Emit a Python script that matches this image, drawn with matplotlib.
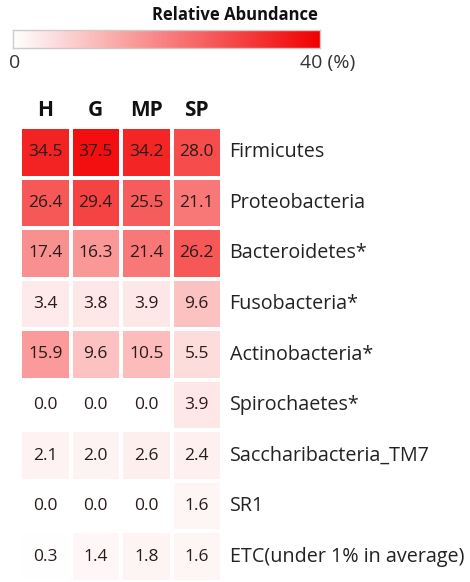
import numpy as np
import matplotlib
matplotlib.use("Agg")
import matplotlib.pyplot as plt
from matplotlib.colors import LinearSegmentedColormap

columns = ["H", "G", "MP", "SP"]
taxa = ["Firmicutes", "Proteobacteria", "Bacteroidetes*", "Fusobacteria*",
        "Actinobacteria*", "Spirochaetes*", "Saccharibacteria_TM7", "SR1",
        "ETC(under 1% in average)"]
H = [34.5, 26.4, 17.4, 3.4, 15.9, 0.0, 2.1, 0.0, 0.3]
G = [37.5, 29.4, 16.3, 3.8, 9.6, 0.0, 2.0, 0.0, 1.4]
MP = [34.2, 25.5, 21.4, 3.9, 10.5, 0.0, 2.6, 0.0, 1.8]
SP = [28.0, 21.1, 26.2, 9.6, 5.5, 3.9, 2.4, 1.6, 1.6]
vmin, vmax = 0, 40

plt.rcParams['font.family'] = ['Open Sans', 'DejaVu Sans']
cmap = LinearSegmentedColormap.from_list("wr", ["#ffffff", "#f20000"])

W, Hpx = 470, 582
fig = plt.figure(figsize=(W / 100, Hpx / 100), dpi=100)

def ax_px(x0, y0, x1, y1):
    return fig.add_axes([x0 / W, 1 - y1 / Hpx, (x1 - x0) / W, (y1 - y0) / Hpx])

data = np.array([H, G, MP, SP]).T
ax = ax_px(20, 127, 222, 582)
ax.pcolormesh(data, cmap=cmap, vmin=vmin, vmax=vmax, edgecolors="white", linewidth=1.5)
ax.set_xlim(0, len(columns))
ax.set_ylim(len(taxa), 0)
for s in ax.spines.values():
    s.set_visible(False)
ax.set_xticks([])
ax.set_yticks([])
for i in range(len(taxa)):
    for j in range(len(columns)):
        ax.text(j + 0.5, i + 0.5, f"{data[i, j]:.1f}", ha="center", va="center",
                fontsize=12.5, color="#2a1a1a")
    ax.text(len(columns) + 0.15, i + 0.5, taxa[i], ha="left", va="center",
            fontsize=14.2, color="#222222", clip_on=False)
for j, c in enumerate(columns):
    ax.text(j + 0.5, -0.32, c, ha="center", va="center", fontsize=15,
            fontweight="bold", color="#111111", clip_on=False)

cax = ax_px(13, 30, 320, 48)
grad = np.linspace(vmin, vmax, 256).reshape(1, -1)
cax.imshow(grad, aspect="auto", cmap=cmap, vmin=vmin, vmax=vmax,
           extent=[vmin, vmax, 0, 1])
cax.set_xticks([])
cax.set_yticks([])
for s in cax.spines.values():
    s.set_color("#cccccc")
    s.set_linewidth(1)
fig.text(318 / W, 1 - 15 / Hpx, "Relative Abundance", ha="right", va="center",
         fontsize=12, fontweight="bold", color="#111111")
fig.text(9 / W, 1 - 63 / Hpx, "0", ha="left", va="center", fontsize=14, color="#333333")
fig.text(300 / W, 1 - 63 / Hpx, "40 (%)", ha="left", va="center", fontsize=14, color="#333333")

fig.savefig("out.png", dpi=100)
